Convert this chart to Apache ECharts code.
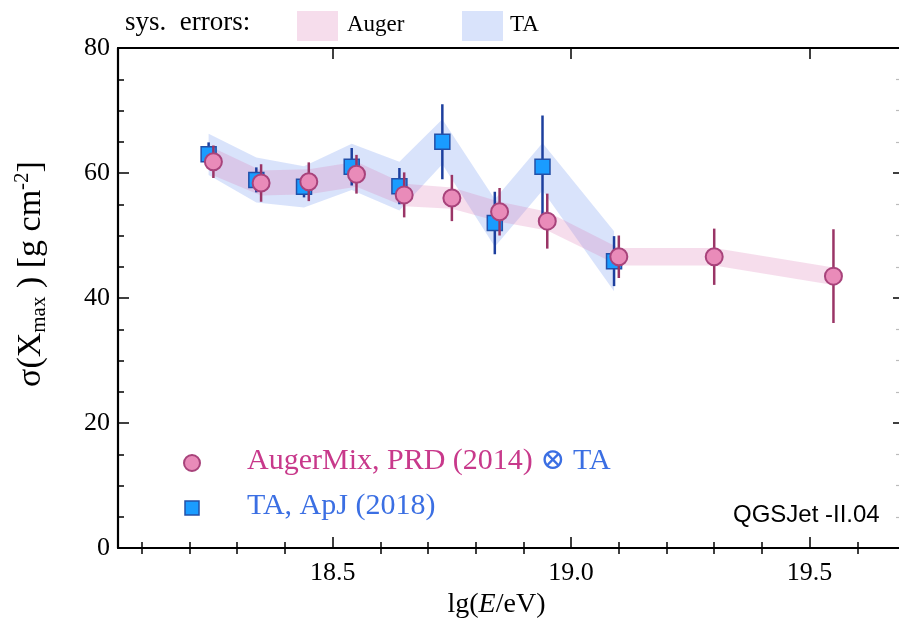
<!DOCTYPE html>
<html>
<head>
<meta charset="utf-8">
<script src="https://cdn.jsdelivr.net/npm/echarts@6/dist/echarts.min.js"></script>
<style>html,body{margin:0;padding:0;background:#fff;overflow:hidden}#c{width:899px;height:622px}</style>
</head>
<body>
<div id="c"></div>
<script>
// ---- data ----
const augerX   = [18.25, 18.35, 18.45, 18.55, 18.65, 18.75, 18.85, 18.95, 19.10, 19.30, 19.55];
const augerY   = [61.8, 58.4, 58.6, 59.8, 56.5, 56.0, 53.8, 52.3, 46.6, 46.6, 43.5];
const augerErr = [2.6, 3.0, 3.1, 3.1, 3.6, 3.7, 3.8, 4.4, 3.4, 4.5, 7.5];
const augerSys = [2.2, 2.0, 2.0, 2.0, 1.8, 1.7, 1.6, 1.5, 1.4, 1.4, 1.4];
const taX   = [18.24, 18.34, 18.44, 18.54, 18.64, 18.73, 18.84, 18.94, 19.09];
const taY   = [63.0, 58.9, 57.8, 61.0, 57.9, 65.0, 52.0, 61.0, 45.9];
const taErr = [1.9, 2.0, 1.7, 3.0, 2.9, 6.0, 5.0, 8.2, 4.0];
const taSys = [3.3, 3.6, 3.3, 3.7, 3.9, 3.6, 3.8, 3.8, 4.8];
const xMajorTicks = [18.5, 19.0, 19.5];
const xMinorTicks = [18.1, 18.2, 18.3, 18.4, 18.6, 18.7, 18.8, 18.9, 19.1, 19.2, 19.3, 19.4, 19.6];

const SERIF = '"Liberation Serif", "DejaVu Serif", serif';
const pinkBand = 'rgba(220,120,180,0.25)';
const blueBand = 'rgba(120,155,240,0.28)';

function bandSeries(xs, ys, sys, color) {
  return {
    type: 'custom', xAxisIndex: 0, yAxisIndex: 0, silent: true, z: 1,
    data: [0],
    renderItem: function (params, api) {
      const pts = [];
      for (let i = 0; i < xs.length; i++) pts.push(api.coord([xs[i], ys[i] + sys[i]]));
      for (let i = xs.length - 1; i >= 0; i--) pts.push(api.coord([xs[i], ys[i] - sys[i]]));
      return { type: 'polygon', shape: { points: pts }, style: { fill: color, stroke: null } };
    }
  };
}
function errSeries(xs, ys, err, color, z) {
  return {
    type: 'custom', xAxisIndex: 0, yAxisIndex: 0, silent: true, z: z,
    data: xs.map((x, i) => [x, ys[i] - err[i], ys[i] + err[i]]),
    renderItem: function (params, api) {
      const a = api.coord([api.value(0), api.value(1)]);
      const b = api.coord([api.value(0), api.value(2)]);
      return { type: 'line', shape: { x1: a[0], y1: a[1], x2: b[0], y2: b[1] },
               style: { stroke: color, lineWidth: 2.5 } };
    }
  };
}

const chart = echarts.init(document.getElementById('c'), null, { renderer: 'canvas', width: 899, height: 622 });
const axisLine = { show: true, onZero: false, lineStyle: { color: '#000', width: 2.2 } };
const xBase = { type: 'value', min: 18.05, max: 19.7, gridIndex: 0, splitLine: { show: false } };

chart.setOption({
  backgroundColor: '#fff',
  animation: false,
  grid: { left: 118, width: 787, top: 48, height: 500, containLabel: false, outerBoundsMode: 'none' },
  xAxis: [
    Object.assign({}, xBase, {
      position: 'bottom', axisLine: axisLine,
      axisTick: { show: true, inside: true, length: 11, lineStyle: { color: '#000', width: 1.5 }, customValues: xMajorTicks },
      axisLabel: { show: true, customValues: xMajorTicks, margin: 12, color: '#000', fontFamily: SERIF, fontSize: 26,
                   formatter: v => v.toFixed(1) },
      name: '{a|lg(}{i|E}{a|/eV)}', nameLocation: 'middle', nameGap: 40,
      nameTextStyle: { padding: [0, 30, 0, 0], rich: {
        a: { fontFamily: SERIF, fontSize: 28, color: '#000' },
        i: { fontFamily: SERIF, fontSize: 28, color: '#000', fontStyle: 'italic' } } }
    }),
    Object.assign({}, xBase, {
      position: 'bottom', axisLine: { show: false },
      axisTick: { show: true, inside: true, length: 6, lineStyle: { color: '#000', width: 1.5 }, customValues: xMinorTicks },
      axisLabel: { show: false }
    }),
    Object.assign({}, xBase, {
      position: 'top', axisLine: axisLine,
      axisTick: { show: true, inside: true, length: 11, lineStyle: { color: '#000', width: 1.5 }, customValues: xMajorTicks },
      axisLabel: { show: false }
    }),
    Object.assign({}, xBase, {
      position: 'top', axisLine: { show: false },
      axisTick: { show: true, inside: true, length: 6, lineStyle: { color: '#000', width: 1.5 }, customValues: xMinorTicks },
      axisLabel: { show: false }
    })
  ],
  yAxis: [
    {
      type: 'value', min: 0, max: 80, interval: 20, position: 'left', axisLine: axisLine,
      splitLine: { show: false },
      axisTick: { show: true, inside: true, length: 11, lineStyle: { color: '#000', width: 1.5 } },
      minorTick: { show: true, splitNumber: 4, length: 6, lineStyle: { color: '#000', width: 1.5 } },
      axisLabel: { margin: 8, color: '#000', fontFamily: SERIF, fontSize: 26 },
      name: '{a|σ(X}{sub|max}{a| ) [g cm}{sup|-2}{a|]}', nameLocation: 'middle', nameGap: 68, nameRotate: 90,
      nameTextStyle: { padding: [0, 0, 0, 48], rich: {
        a: { fontFamily: SERIF, fontSize: 34, color: '#000', lineHeight: 38 },
        sub: { fontFamily: SERIF, fontSize: 21, color: '#000', lineHeight: 21, verticalAlign: 'bottom' },
        sup: { fontFamily: SERIF, fontSize: 21, color: '#000', lineHeight: 21, verticalAlign: 'top' } } }
    },
    {
      type: 'value', min: 0, max: 80, interval: 20, position: 'right', axisLine: { show: false },
      splitLine: { show: false },
      axisTick: { show: true, inside: true, length: 12, lineStyle: { color: '#000', width: 1.5 } },
      minorTick: { show: true, splitNumber: 4, length: 9, lineStyle: { color: '#bbb', width: 1.2 } },
      axisLabel: { show: false }
    }
  ],
  series: [
    bandSeries(taX, taY, taSys, blueBand),
    bandSeries(augerX, augerY, augerSys, pinkBand),
    errSeries(taX, taY, taErr, '#1d3f9e', 3),
    {
      type: 'scatter', name: 'TA', xAxisIndex: 0, yAxisIndex: 0, z: 4,
      symbol: 'rect', symbolSize: 15,
      itemStyle: { color: '#1a9cff', borderColor: '#2350a8', borderWidth: 1.5, opacity: 1 },
      data: taX.map((x, i) => [x, taY[i]])
    },
    errSeries(augerX, augerY, augerErr, '#9a3566', 5),
    {
      type: 'scatter', name: 'Auger', xAxisIndex: 0, yAxisIndex: 0, z: 6,
      symbol: 'circle', symbolSize: 17,
      itemStyle: { color: '#e98bb9', borderColor: '#a8437b', borderWidth: 2, opacity: 1 },
      data: augerX.map((x, i) => [x, augerY[i]])
    }
  ],
  graphic: [
    { type: 'text', left: 125, top: 9, style: { text: 'sys.  errors:', font: '27px ' + SERIF, fill: '#000' } },
    { type: 'rect', left: 297, top: 11, shape: { width: 41, height: 30 }, style: { fill: pinkBand } },
    { type: 'text', left: 347, top: 13, style: { text: 'Auger', font: '23px ' + SERIF, fill: '#000' } },
    { type: 'rect', left: 462, top: 11, shape: { width: 41, height: 30 }, style: { fill: blueBand } },
    { type: 'text', left: 510, top: 13, style: { text: 'TA', font: '23px ' + SERIF, fill: '#000' } },
    { type: 'circle', shape: { cx: 192, cy: 463, r: 8 }, style: { fill: '#e98bb9', stroke: '#a8437b', lineWidth: 2 } },
    { type: 'rect', shape: { x: 185, y: 501, width: 14, height: 14 }, style: { fill: '#1a9cff', stroke: '#2350a8', lineWidth: 1.5 } },
    { type: 'text', left: 247, top: 446, style: {
        text: '{a|AugerMix, PRD (2014) }{b|⊗ TA}',
        rich: { a: { font: '30px ' + SERIF, fill: '#c8398b' }, b: { font: '30px ' + SERIF, fill: '#3b6fe3' } } } },
    { type: 'text', left: 247, top: 491, style: { text: 'TA, ApJ (2018)', font: '30px ' + SERIF, fill: '#3b6fe3' } },
    { type: 'text', left: 733, top: 503, style: { text: 'QGSJet -II.04', font: '24px "Liberation Sans", Arial, sans-serif', fill: '#000' } }
  ]
});
</script>
</body>
</html>
